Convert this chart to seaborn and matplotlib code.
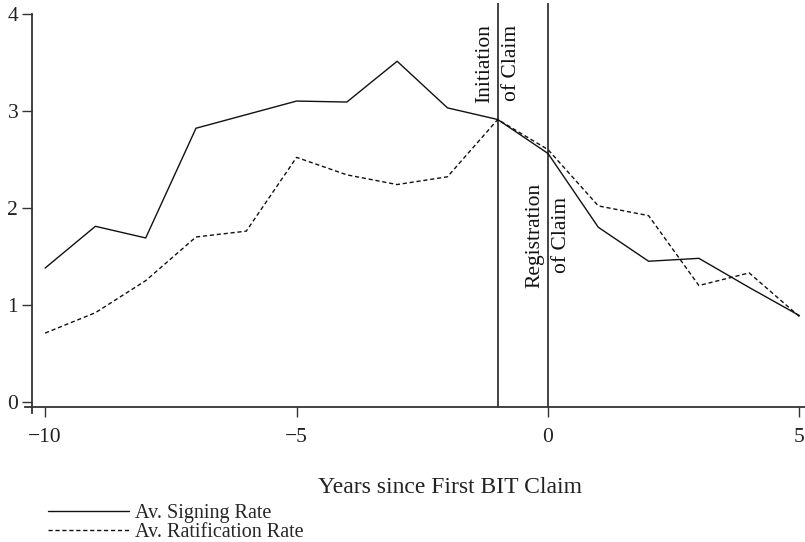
import matplotlib
matplotlib.use('Agg')
import matplotlib.pyplot as plt
import seaborn as sns
import pandas as pd
from matplotlib.lines import Line2D

# values
years = [-10, -9, -8, -7, -6, -5, -4, -3, -2, -1, 0, 1, 2, 3, 4, 5]
signing = [1.38, 1.81, 1.69, 2.82, 2.96, 3.10, 3.09, 3.51, 3.03, 2.91, 2.56, 1.80, 1.45, 1.48, 1.18, 0.89]
ratification = [0.71, 0.92, 1.25, 1.70, 1.76, 2.52, 2.34, 2.24, 2.32, 2.91, 2.60, 2.02, 1.92, 1.20, 1.33, 0.88]
claim_years = [-1, 0]
claim_labels = ['Initiation\nof Claim', 'Registration\nof Claim']
claim_label_y = [3.49, 1.72]
x_ticks = [-10, -5, 0, 5]
y_ticks = [0, 1, 2, 3, 4]

df = pd.DataFrame({'year': years, 'Av. Signing Rate': signing, 'Av. Ratification Rate': ratification})
df_long = df.melt(id_vars='year', var_name='series', value_name='rate')

sns.set_theme(style='ticks')
plt.rcParams['font.family'] = ['Liberation Serif', 'DejaVu Serif']
plt.rcParams['axes.unicode_minus'] = True

FS = 15.5

fig = plt.figure(figsize=(8.05, 5.42), dpi=100)
ax = fig.add_axes([25 / 805, 1 - 413 / 542, 780 / 805, 410 / 542])

sns.lineplot(data=df_long, x='year', y='rate', hue='series', style='series',
             palette=['#111111', '#111111'],
             dashes={'Av. Signing Rate': '', 'Av. Ratification Rate': (3, 2)},
             linewidth=1.0, ax=ax, legend=False)

ax.set_xlim(-10.4, 5.11)
ax.set_ylim(-0.113, 4.11)

for x, lab, ly in zip(claim_years, claim_labels, claim_label_y):
    ax.vlines(x, -0.05, 4.11, color='#111111', linewidth=1.1)
    ax.text(x, ly, lab, rotation=90, ha='center', va='center',
            multialignment='center', linespacing=1.55, fontsize=FS, color='#111111')

ax.spines['top'].set_visible(False)
ax.spines['right'].set_visible(False)
ax.spines['left'].set_position(('data', -10.26))
ax.spines['left'].set_bounds(-0.113, 4)
ax.spines['bottom'].set_position(('data', -0.05))
for s in ['left', 'bottom']:
    ax.spines[s].set_color('#333333')
    ax.spines[s].set_linewidth(1.3)

ax.set_xticks(x_ticks)
ax.set_yticks(y_ticks)
ax.tick_params(axis='both', direction='out', length=7, width=1.0, color='#333333',
               labelsize=FS, labelcolor='#222222')
ax.tick_params(axis='x', pad=8)
ax.tick_params(axis='y', pad=3)

ax.set_xlabel('Years since First BIT Claim', fontsize=17, color='#222222')
ax.xaxis.set_label_coords((450 - 25) / 780, -0.155)
ax.set_ylabel('')

# legend below the axes, bottom left
handles = [Line2D([], [], color='#111111', linewidth=1.0),
           Line2D([], [], color='#111111', linewidth=1.0, linestyle=(0, (3, 2)))]
fig.legend(handles, ['Av. Signing Rate', 'Av. Ratification Rate'],
           loc='upper left', bbox_to_anchor=(48 / 805, 1 - 504 / 542),
           frameon=False, fontsize=14.5, handlelength=4.0, handletextpad=0.3,
           labelspacing=0.0, borderpad=0, borderaxespad=0)

fig.savefig('out.png', dpi=100)
